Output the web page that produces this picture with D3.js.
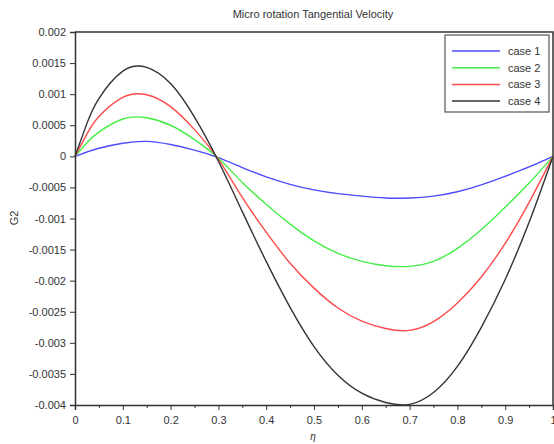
<!DOCTYPE html>
<html>
<head>
<meta charset="utf-8">
<script src="https://cdn.jsdelivr.net/npm/d3@7"></script>
<style>
  body { margin: 0; background: #fff; }
  text { font-family: "Liberation Sans", Arial, sans-serif; fill: #333; }
</style>
</head>
<body>
<div id="chart"></div>
<script>
// micro rotation G2 vs eta, four cases
var eta = [0, 0.025, 0.05, 0.1, 0.15, 0.2, 0.25, 0.3, 0.35, 0.4, 0.45, 0.5,
           0.55, 0.6, 0.65, 0.7, 0.75, 0.8, 0.85, 0.9, 0.95, 1];
var case1 = [0, 0.00007, 0.00013, 0.00021, 0.00024, 0.00019, 0.0001, -0.00002, -0.00018, -0.00033, -0.00045, -0.00054,
             -0.0006, -0.00064, -0.00067, -0.00067, -0.00064, -0.00057, -0.00046, -0.00032, -0.00017, 0];
var case2 = [0, 0.00022, 0.00039, 0.0006, 0.00062, 0.0005, 0.00027, -0.00003, -0.00042, -0.00077, -0.00109, -0.00136,
             -0.00156, -0.00169, -0.00176, -0.00177, -0.00169, -0.00148, -0.00118, -0.00082, -0.00043, 0];
var case3 = [0, 0.00036, 0.00064, 0.00095, 0.00099, 0.0008, 0.00043, -0.00005, -0.00066, -0.00122, -0.00172, -0.00212,
             -0.00244, -0.00265, -0.00277, -0.0028, -0.00266, -0.00236, -0.00194, -0.0014, -0.00074, 0];
var case4 = [0, 0.00053, 0.00093, 0.00137, 0.00143, 0.00117, 0.00063, -0.00008, -0.00089, -0.00169, -0.00243, -0.00306,
             -0.00352, -0.00381, -0.00396, -0.00399, -0.0038, -0.00338, -0.00275, -0.00198, -0.00106, 0];
var seriesNames = ["case 1", "case 2", "case 3", "case 4"];
var seriesColors = ["#4b4bff", "#44ee44", "#ff4a4a", "#333333"];
var xTicks = [0, 0.1, 0.2, 0.3, 0.4, 0.5, 0.6, 0.7, 0.8, 0.9, 1];
var xMinor = [0.05, 0.15, 0.25, 0.35, 0.45, 0.55, 0.65, 0.75, 0.85, 0.95];
var yTicks = [0.002, 0.0015, 0.001, 0.0005, 0, -0.0005, -0.001, -0.0015, -0.002, -0.0025, -0.003, -0.0035, -0.004];

var svgWidth = 554, svgHeight = 444;
var margin = { top: 32, right: 1, bottom: 39, left: 75 };
var chartWidth = svgWidth - margin.left - margin.right;
var chartHeight = svgHeight - margin.top - margin.bottom;

var svg = d3.select("#chart").append("svg")
  .attr("width", svgWidth)
  .attr("height", svgHeight);

var chartGroup = svg.append("g")
  .attr("transform", `translate(${margin.left}, ${margin.top})`);

var xScale = d3.scaleLinear().domain([0, 1]).range([0, chartWidth]);
var yScale = d3.scaleLinear().domain([-0.004, 0.002]).range([chartHeight, 0]);

// frame top / right
chartGroup.append("path")
  .attr("d", `M0,0H${chartWidth}V${chartHeight}`)
  .attr("fill", "none")
  .attr("stroke", "#333")
  .attr("stroke-width", 1.5);

// curves
var allCases = [case1, case2, case3, case4];
var line = d3.line()
  .x((d, i) => xScale(eta[i]))
  .y(d => yScale(d))
  .curve(d3.curveNatural);

allCases.forEach((vals, k) => {
  chartGroup.append("path")
    .datum(vals)
    .attr("d", line)
    .attr("fill", "none")
    .attr("stroke", seriesColors[k])
    .attr("stroke-width", 1.4);
});

// x axis
var xAxis = d3.axisBottom(xScale).tickValues(xTicks).tickSize(5).tickPadding(6)
  .tickFormat(d => d3.format("")(d));
chartGroup.append("g")
  .attr("transform", `translate(0, ${chartHeight})`)
  .call(xAxis);
chartGroup.append("g")
  .attr("transform", `translate(0, ${chartHeight})`)
  .call(d3.axisBottom(xScale).tickValues(xMinor).tickSize(3).tickFormat(""))
  .call(g => g.select(".domain").remove());

// y axis
var yAxis = d3.axisLeft(yScale).tickValues(yTicks).tickSize(5).tickPadding(4)
  .tickFormat(d => d === 0 ? "0" : String(+d.toFixed(4)));
chartGroup.append("g").call(yAxis);

svg.selectAll(".tick line").attr("stroke", "#333");
svg.selectAll(".domain").attr("stroke", "#333").attr("stroke-width", 1.5);
svg.selectAll(".tick text").attr("font-size", 11).attr("fill", "#333")
  .style("font-family", "'Liberation Sans', Arial, sans-serif");

// title and labels
svg.append("text")
  .attr("x", 313).attr("y", 18)
  .attr("text-anchor", "middle")
  .attr("font-size", 11)
  .text("Micro rotation Tangential Velocity");

svg.append("text")
  .attr("transform", "translate(18, 218) rotate(-90)")
  .attr("text-anchor", "middle")
  .attr("font-size", 11)
  .text("G2");

svg.append("text")
  .attr("x", 313).attr("y", 440)
  .attr("text-anchor", "middle")
  .attr("font-size", 10)
  .attr("font-style", "italic")
  .text("η");

// legend
var legend = svg.append("g").attr("transform", "translate(445, 35)");
legend.append("rect")
  .attr("width", 104).attr("height", 77)
  .attr("fill", "#fff")
  .attr("stroke", "#555")
  .attr("stroke-width", 1.2);
seriesNames.forEach((name, k) => {
  var yy = 16 + k * 16.7;
  legend.append("line")
    .attr("x1", 7).attr("x2", 55)
    .attr("y1", yy).attr("y2", yy)
    .attr("stroke", seriesColors[k])
    .attr("stroke-width", 1.5);
  legend.append("text")
    .attr("x", 63).attr("y", yy + 4)
    .attr("font-size", 11)
    .text(name);
});
</script>
</body>
</html>
